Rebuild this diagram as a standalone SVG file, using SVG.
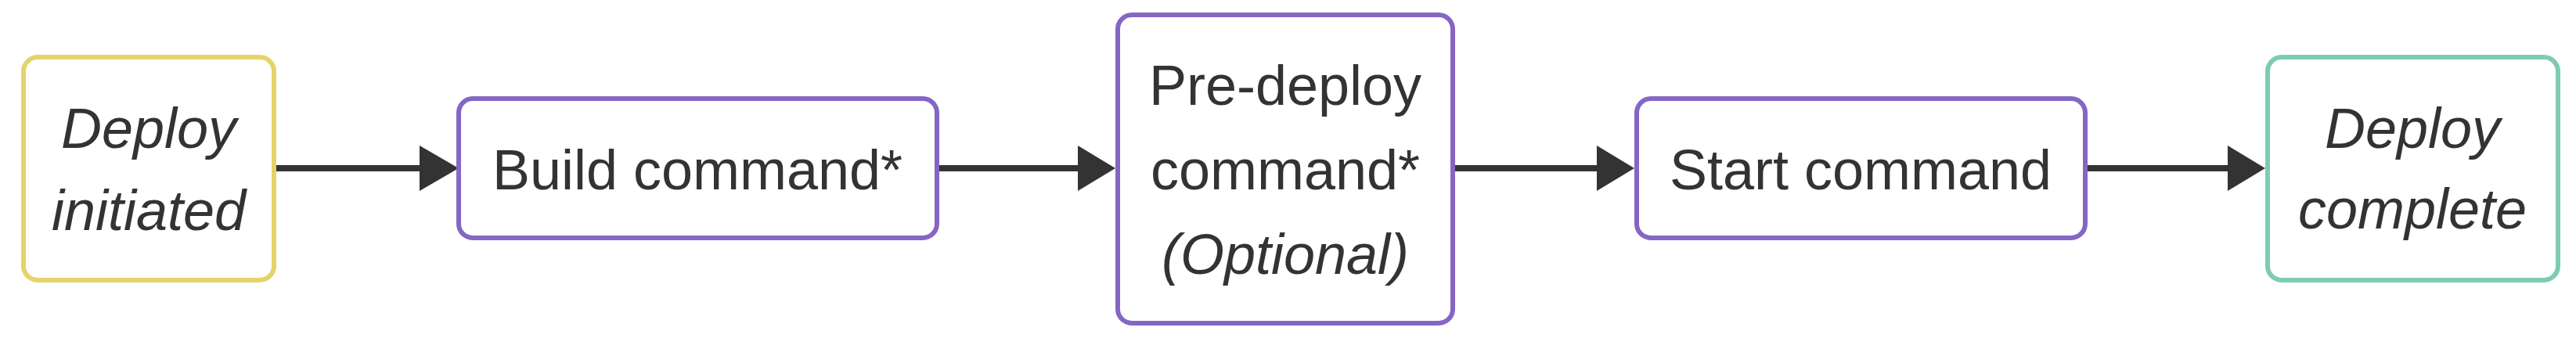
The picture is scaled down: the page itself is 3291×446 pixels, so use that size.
<svg xmlns="http://www.w3.org/2000/svg" width="3291" height="446" viewBox="0 0 3291 446">
<style>
.box{fill:#fff;stroke-width:6}
.y{stroke:#e6d36a}
.p{stroke:#8566c4}
.g{stroke:#7dccaf}
text{font-family:"Liberation Sans",Arial,Helvetica,sans-serif;font-size:72px;fill:#333;text-anchor:middle}
.i{font-style:italic}
.edge{stroke:#333;stroke-width:8;fill:none}
.head{fill:#333}
</style>
<rect width="3291" height="446" fill="#fff"/>
<g id="connectors">
<line class="edge" x1="353" y1="215" x2="540" y2="215"/>
<polygon class="head" points="536,186 586,215 536,244"/>
<line class="edge" x1="1200" y1="215" x2="1381" y2="215"/>
<polygon class="head" points="1377,186 1425,215 1377,244"/>
<line class="edge" x1="1859" y1="215" x2="2044" y2="215"/>
<polygon class="head" points="2040,186 2088,215 2040,244"/>
<line class="edge" x1="2667" y1="215" x2="2850" y2="215"/>
<polygon class="head" points="2846,186 2894,215 2846,244"/>
</g>
<g id="deploy-initiated">
<rect class="box y" x="30" y="73" width="320" height="285" rx="18"/>
<text class="i" x="190" y="189">Deploy</text>
<text class="i" x="190" y="294">initiated</text>
</g>
<g id="build-command">
<rect class="box p" x="586" y="126" width="611" height="178" rx="18"/>
<text x="891" y="242">Build command*</text>
</g>
<g id="pre-deploy-command">
<rect class="box p" x="1428" y="19" width="428" height="394" rx="18"/>
<text x="1642" y="134">Pre-deploy</text>
<text x="1642" y="242">command*</text>
<text class="i" x="1642" y="350">(Optional)</text>
</g>
<g id="start-command">
<rect class="box p" x="2091" y="126" width="573" height="178" rx="18"/>
<text x="2377" y="242">Start command</text>
</g>
<g id="deploy-complete">
<rect class="box g" x="2897" y="73" width="371" height="285" rx="18"/>
<text class="i" x="3082" y="189">Deploy</text>
<text class="i" x="3082" y="292">complete</text>
</g>
</svg>
